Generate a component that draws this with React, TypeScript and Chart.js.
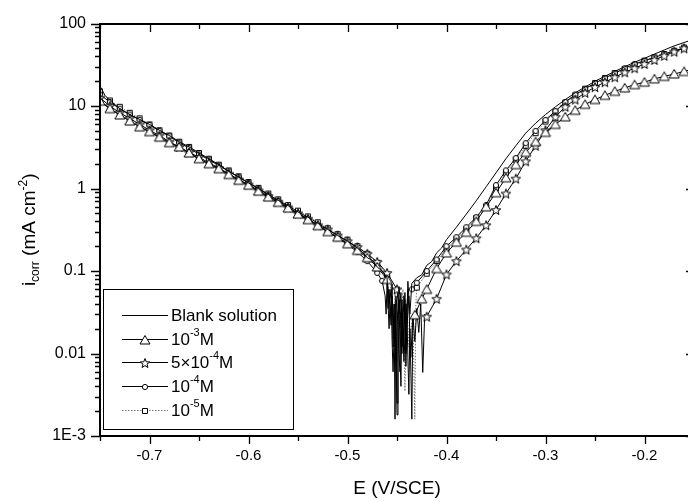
import React, { useEffect, useRef } from 'react';
import { Chart, registerables } from 'chart.js';

Chart.register(...registerables);

const FONT = "'Liberation Sans', Arial, Helvetica, sans-serif";

// ---- axes ----
const xMin = -0.75;
const xMax = -0.15;
const yMin = 0.001;
const yMax = 100;
const xTickValues = [-0.7, -0.6, -0.5, -0.4, -0.3, -0.2];
const xTickLabels = ['-0.7', '-0.6', '-0.5', '-0.4', '-0.3', '-0.2'];
const xMinorTicks = [-0.75, -0.65, -0.55, -0.45, -0.35, -0.25, -0.15];
const yTickValues = [0.001, 0.01, 0.1, 1, 10, 100];
const yTickLabels = ['1E-3', '0.01', '0.1', '1', '10', '100'];
const yMinorFactors = [2, 3, 4, 5, 6, 7, 8, 9];

const xTitle = 'E (V/SCE)';
const yTitle = [
  { text: 'i', role: 'base' },
  { text: 'corr', role: 'sub' },
  { text: ' (mA cm', role: 'base' },
  { text: '-2', role: 'sup' },
  { text: ')', role: 'base' },
];

const seriesLabels = [
  [{ text: 'Blank solution', role: 'base' }],
  [{ text: '10', role: 'base' }, { text: '-3', role: 'sup' }, { text: 'M', role: 'base' }],
  [{ text: '5\u00d710', role: 'base' }, { text: '-4', role: 'sup' }, { text: 'M', role: 'base' }],
  [{ text: '10', role: 'base' }, { text: '-4', role: 'sup' }, { text: 'M', role: 'base' }],
  [{ text: '10', role: 'base' }, { text: '-5', role: 'sup' }, { text: 'M', role: 'base' }],
];

// ---- data: [E (V/SCE), i (mA cm-2)] ----
// Blank solution
const blankCathodic: [number, number][] = [
  [-0.75, 17.4], [-0.745, 13.5], [-0.74, 11.7], [-0.73, 9.3], [-0.72, 7.9], [-0.71, 6.9], [-0.70, 6.0],
  [-0.69, 5.1], [-0.68, 4.4], [-0.67, 3.7], [-0.66, 3.2], [-0.65, 2.7], [-0.64, 2.3], [-0.63, 1.95],
  [-0.62, 1.62], [-0.61, 1.38], [-0.60, 1.17], [-0.59, 1.0], [-0.58, 0.85], [-0.57, 0.72], [-0.56, 0.62],
  [-0.55, 0.52], [-0.54, 0.45], [-0.53, 0.38], [-0.52, 0.32], [-0.51, 0.27], [-0.50, 0.23], [-0.49, 0.19],
  [-0.485, 0.17], [-0.48, 0.145], [-0.475, 0.135], [-0.47, 0.112], [-0.465, 0.1], [-0.46, 0.083],
];
const blankNoise: [number, number][] = [
  [-0.459, 0.035], [-0.458, 0.06], [-0.456, 0.022], [-0.455, 0.07], [-0.454, 0.012], [-0.453, 0.04],
  [-0.452, 0.0016], [-0.451, 0.05], [-0.45, 0.0025], [-0.449, 0.018], [-0.448, 0.065], [-0.447, 0.009],
  [-0.446, 0.004], [-0.445, 0.045], [-0.444, 0.02], [-0.443, 0.011], [-0.442, 0.055], [-0.441, 0.007],
  [-0.44, 0.025], [-0.439, 0.075], [-0.437, 0.03],
];
const blankAnodic: [number, number][] = [
  [-0.435, 0.071], [-0.43, 0.083], [-0.425, 0.09], [-0.42, 0.117], [-0.415, 0.13], [-0.41, 0.166],
  [-0.405, 0.19], [-0.40, 0.24], [-0.39, 0.34], [-0.38, 0.49], [-0.37, 0.71], [-0.36, 1.05], [-0.35, 1.55],
  [-0.34, 2.3], [-0.33, 3.3], [-0.32, 4.7], [-0.31, 6.2], [-0.30, 7.9], [-0.29, 9.8], [-0.28, 12.0],
  [-0.27, 14.5], [-0.26, 17.0], [-0.25, 20], [-0.24, 23], [-0.23, 26.3], [-0.22, 30], [-0.21, 34],
  [-0.20, 38], [-0.19, 42.7], [-0.18, 47.9], [-0.17, 53.7], [-0.16, 59], [-0.15, 64.6],
];

// 10^-3 M
const c3Cathodic: [number, number][] = [
  [-0.75, 11.5], [-0.74, 9.3], [-0.73, 7.8], [-0.72, 6.6], [-0.71, 5.6], [-0.70, 4.9], [-0.69, 4.2],
  [-0.68, 3.6], [-0.67, 3.2], [-0.66, 2.7], [-0.65, 2.3], [-0.64, 2.0], [-0.63, 1.74], [-0.62, 1.48],
  [-0.61, 1.26], [-0.60, 1.10], [-0.59, 0.93], [-0.58, 0.79], [-0.57, 0.68], [-0.56, 0.58], [-0.55, 0.49],
  [-0.54, 0.42], [-0.53, 0.355], [-0.52, 0.30], [-0.51, 0.257], [-0.50, 0.214], [-0.49, 0.178],
  [-0.48, 0.145], [-0.47, 0.112], [-0.46, 0.079],
];
const c3Noise: [number, number][] = [
  [-0.456, 0.03], [-0.455, 0.05], [-0.453, 0.02], [-0.452, 0.012], [-0.451, 0.045], [-0.45, 0.04],
  [-0.448, 0.01], [-0.447, 0.006], [-0.446, 0.03], [-0.445, 0.035], [-0.443, 0.008], [-0.442, 0.015],
  [-0.441, 0.04], [-0.44, 0.03], [-0.439, 0.009], [-0.438, 0.0032], [-0.437, 0.02], [-0.436, 0.006],
  [-0.435, 0.0016], [-0.434, 0.025],
];
const c3Anodic: [number, number][] = [
  [-0.432, 0.0295], [-0.425, 0.046], [-0.42, 0.06], [-0.41, 0.107], [-0.40, 0.166], [-0.39, 0.224],
  [-0.38, 0.295], [-0.37, 0.40], [-0.36, 0.60], [-0.35, 0.89], [-0.34, 1.35], [-0.33, 1.95], [-0.32, 2.75],
  [-0.31, 3.7], [-0.30, 4.8], [-0.29, 6.0], [-0.28, 7.4], [-0.27, 8.9], [-0.26, 10.5], [-0.25, 12.0],
  [-0.24, 13.5], [-0.23, 15.1], [-0.22, 16.6], [-0.21, 18.2], [-0.20, 19.5], [-0.19, 21.4], [-0.18, 22.9],
  [-0.17, 24.5], [-0.16, 26.3], [-0.15, 28.2],
];

// 5x10^-4 M
const c54Cathodic: [number, number][] = [
  [-0.75, 12.6], [-0.74, 10.0], [-0.73, 8.3], [-0.72, 7.1], [-0.71, 6.0], [-0.70, 5.1], [-0.69, 4.4],
  [-0.68, 3.7], [-0.67, 3.2], [-0.66, 2.75], [-0.65, 2.4], [-0.64, 2.05], [-0.63, 1.78], [-0.62, 1.51],
  [-0.61, 1.29], [-0.60, 1.12], [-0.59, 0.95], [-0.58, 0.81], [-0.57, 0.69], [-0.56, 0.59], [-0.55, 0.50],
  [-0.54, 0.43], [-0.53, 0.36], [-0.52, 0.32], [-0.51, 0.27], [-0.50, 0.23], [-0.49, 0.195],
  [-0.48, 0.162], [-0.47, 0.129], [-0.46, 0.095], [-0.45, 0.06],
];
const c54Noise: [number, number][] = [
  [-0.448, 0.03], [-0.446, 0.055], [-0.445, 0.02], [-0.444, 0.012], [-0.442, 0.045], [-0.441, 0.01],
  [-0.44, 0.02], [-0.438, 0.05], [-0.437, 0.015], [-0.436, 0.009], [-0.434, 0.03], [-0.432, 0.014],
  [-0.43, 0.035], [-0.428, 0.018], [-0.426, 0.04], [-0.424, 0.0059], [-0.422, 0.03],
];
const c54Anodic: [number, number][] = [
  [-0.42, 0.028], [-0.41, 0.046], [-0.40, 0.091], [-0.39, 0.132], [-0.38, 0.182], [-0.37, 0.25],
  [-0.36, 0.36], [-0.35, 0.55], [-0.34, 0.87], [-0.33, 1.32], [-0.32, 2.14], [-0.31, 3.3], [-0.30, 5.1],
  [-0.29, 7.4], [-0.28, 9.8], [-0.27, 12.0], [-0.26, 14.5], [-0.25, 17.0], [-0.24, 19.5], [-0.23, 22.4],
  [-0.22, 25.7], [-0.21, 28.8], [-0.20, 32.4], [-0.19, 36.3], [-0.18, 40.7], [-0.17, 45.7], [-0.16, 50.1],
  [-0.15, 55],
];

// 10^-4 M
const c4Cathodic: [number, number][] = [
  [-0.75, 13.8], [-0.74, 11.2], [-0.73, 9.3], [-0.72, 7.9], [-0.71, 6.8], [-0.70, 5.9], [-0.69, 5.0],
  [-0.68, 4.3], [-0.67, 3.6], [-0.66, 3.1], [-0.65, 2.6], [-0.64, 2.24], [-0.63, 1.9], [-0.62, 1.62],
  [-0.61, 1.38], [-0.60, 1.17], [-0.59, 1.0], [-0.58, 0.83], [-0.57, 0.71], [-0.56, 0.60], [-0.55, 0.50],
  [-0.54, 0.43], [-0.53, 0.36], [-0.52, 0.30], [-0.51, 0.25], [-0.50, 0.21], [-0.49, 0.17],
  [-0.48, 0.132], [-0.47, 0.095], [-0.465, 0.076],
];
const c4Noise: [number, number][] = [
  [-0.462, 0.05], [-0.461, 0.03], [-0.46, 0.075], [-0.458, 0.02], [-0.457, 0.045], [-0.456, 0.06],
  [-0.455, 0.015], [-0.454, 0.006], [-0.452, 0.04], [-0.451, 0.012], [-0.45, 0.0018], [-0.449, 0.03],
  [-0.447, 0.045], [-0.446, 0.02], [-0.445, 0.01], [-0.443, 0.05], [-0.441, 0.02], [-0.439, 0.06],
];
const c4Anodic: [number, number][] = [
  [-0.435, 0.06], [-0.43, 0.072], [-0.42, 0.10], [-0.41, 0.138], [-0.40, 0.20], [-0.39, 0.257],
  [-0.38, 0.34], [-0.37, 0.45], [-0.36, 0.63], [-0.35, 1.10], [-0.34, 1.66], [-0.33, 2.34], [-0.32, 3.55],
  [-0.31, 5.0], [-0.30, 6.8], [-0.29, 8.7], [-0.28, 11.2], [-0.27, 13.8], [-0.26, 16.2], [-0.25, 19.0],
  [-0.24, 21.9], [-0.23, 25.1], [-0.22, 28.8], [-0.21, 32.4], [-0.20, 35.5], [-0.19, 38.9], [-0.18, 42.7],
  [-0.17, 46.8], [-0.16, 50.1], [-0.15, 53.7],
];

// 10^-5 M
const c5Cathodic: [number, number][] = [
  [-0.75, 15.1], [-0.74, 11.7], [-0.73, 9.8], [-0.72, 8.3], [-0.71, 7.1], [-0.70, 6.0], [-0.69, 5.1],
  [-0.68, 4.4], [-0.67, 3.7], [-0.66, 3.2], [-0.65, 2.7], [-0.64, 2.3], [-0.63, 1.95], [-0.62, 1.66],
  [-0.61, 1.41], [-0.60, 1.2], [-0.59, 1.02], [-0.58, 0.87], [-0.57, 0.74], [-0.56, 0.63], [-0.55, 0.54],
  [-0.54, 0.46], [-0.53, 0.39], [-0.52, 0.33], [-0.51, 0.28], [-0.50, 0.24], [-0.49, 0.20],
  [-0.48, 0.162], [-0.47, 0.126], [-0.46, 0.091],
];
const c5Noise: [number, number][] = [
  [-0.458, 0.04], [-0.456, 0.07], [-0.454, 0.015], [-0.452, 0.055], [-0.45, 0.008], [-0.448, 0.045],
  [-0.446, 0.02], [-0.444, 0.06], [-0.442, 0.0035], [-0.44, 0.04], [-0.438, 0.012], [-0.434, 0.03],
  [-0.432, 0.0016], [-0.431, 0.04],
];
const c5Anodic: [number, number][] = [
  [-0.43, 0.063], [-0.42, 0.093], [-0.41, 0.132], [-0.40, 0.186], [-0.39, 0.245], [-0.38, 0.32],
  [-0.37, 0.44], [-0.36, 0.60], [-0.35, 1.0], [-0.34, 1.55], [-0.33, 2.24], [-0.32, 3.3], [-0.31, 4.7],
  [-0.30, 6.5], [-0.29, 8.5], [-0.28, 11.0], [-0.27, 13.5], [-0.26, 16.2], [-0.25, 19.0], [-0.24, 21.9],
  [-0.23, 25.1], [-0.22, 28.2], [-0.21, 31.6], [-0.20, 35.5], [-0.19, 38.9], [-0.18, 42.7], [-0.17, 46.8],
  [-0.16, 51.3], [-0.15, 55],
];

type Part = { text: string; role: string };

function makeMarker(kind: string): HTMLCanvasElement {
  const big = kind === 'triangle' || kind === 'star';
  const s = big ? 12 : 8;
  const c = document.createElement('canvas');
  c.width = s;
  c.height = s;
  const g = c.getContext('2d') as CanvasRenderingContext2D;
  g.fillStyle = '#fff';
  g.strokeStyle = '#000';
  g.lineWidth = 1;
  const m = s / 2;
  g.beginPath();
  if (kind === 'triangle') {
    g.moveTo(m, 1.5);
    g.lineTo(s - 1, s - 2);
    g.lineTo(1, s - 2);
    g.closePath();
  } else if (kind === 'star') {
    for (let i = 0; i < 10; i++) {
      const r = i % 2 === 0 ? 5 : 2.1;
      const a = -Math.PI / 2 + (i * Math.PI) / 5;
      const px = m + r * Math.cos(a);
      const py = m + 0.5 + r * Math.sin(a);
      if (i === 0) g.moveTo(px, py);
      else g.lineTo(px, py);
    }
    g.closePath();
  } else if (kind === 'circle') {
    g.arc(m, m, 2.6, 0, Math.PI * 2);
  } else {
    g.rect(1.5, 1.5, 5, 5);
  }
  g.fill();
  g.stroke();
  return c;
}

function fontFor(role: string, base: number) {
  return `${role === 'base' ? base : Math.round(base * 0.62)}px ${FONT}`;
}

function richWidth(ctx: CanvasRenderingContext2D, parts: Part[], base: number) {
  let w = 0;
  for (const p of parts) {
    ctx.font = fontFor(p.role, base);
    w += ctx.measureText(p.text).width;
  }
  return w;
}

function drawRich(ctx: CanvasRenderingContext2D, parts: Part[], x: number, y: number, base: number) {
  let cx = x;
  for (const p of parts) {
    ctx.font = fontFor(p.role, base);
    const dy = p.role === 'sup' ? -base * 0.42 : p.role === 'sub' ? base * 0.22 : 0;
    ctx.fillText(p.text, cx, y + dy);
    cx += ctx.measureText(p.text).width;
  }
}

export default function App() {
  const ref = useRef<HTMLCanvasElement>(null);

  useEffect(() => {
    document.body.style.margin = '0';
    document.body.style.overflow = 'hidden';
    const canvas = ref.current;
    if (!canvas) return;

    const markers = {
      triangle: makeMarker('triangle'),
      star: makeMarker('star'),
      circle: makeMarker('circle'),
      square: makeMarker('square'),
    };

    const series = [
      { cath: blankCathodic, noise: blankNoise, anod: blankAnodic, marker: null, color: '#000', dash: [] as number[] },
      { cath: c3Cathodic, noise: c3Noise, anod: c3Anodic, marker: markers.triangle, color: '#000', dash: [] as number[] },
      { cath: c54Cathodic, noise: c54Noise, anod: c54Anodic, marker: markers.star, color: '#000', dash: [] as number[] },
      { cath: c4Cathodic, noise: c4Noise, anod: c4Anodic, marker: markers.circle, color: '#000', dash: [] as number[] },
      { cath: c5Cathodic, noise: c5Noise, anod: c5Anodic, marker: markers.square, color: '#777', dash: [1.5, 1.5] },
    ];

    const datasets = series.map((s, k) => {
      const pts = [...s.cath, ...s.noise, ...s.anod].map(([x, y]) => ({ x, y }));
      const r = s.marker ? 4 : 0;
      const radii = [...s.cath.map(() => r), ...s.noise.map(() => 0), ...s.anod.map(() => r)];
      return {
        label: seriesLabels[k].map((p) => p.text).join(''),
        data: pts,
        borderColor: s.color,
        borderWidth: 1,
        borderDash: s.dash,
        pointRadius: radii,
        pointStyle: (s.marker || 'circle') as any,
        pointBackgroundColor: '#fff',
        pointBorderColor: '#000',
        tension: 0,
        fill: false,
      };
    });

    const decorations = {
      id: 'decorations',
      afterDraw(chart: any) {
        const { ctx, chartArea: a, scales } = chart;
        const xs = scales.x;
        const ys = scales.y;
        const L = Math.round(a.left);
        const R = Math.round(a.right);
        const T = Math.round(a.top);
        const B = Math.round(a.bottom);
        ctx.save();
        ctx.strokeStyle = '#000';
        ctx.fillStyle = '#000';
        // frame
        ctx.lineWidth = 2;
        ctx.strokeRect(L, T, R - L, B - T);
        // ticks
        ctx.lineWidth = 1.3;
        ctx.beginPath();
        for (const v of xTickValues) {
          const px = Math.round(xs.getPixelForValue(v)) + 0.5;
          ctx.moveTo(px, B);
          ctx.lineTo(px, B + 8);
          ctx.moveTo(px, T);
          ctx.lineTo(px, T + 8);
        }
        for (const v of xMinorTicks) {
          const px = Math.round(xs.getPixelForValue(v)) + 0.5;
          ctx.moveTo(px, B);
          ctx.lineTo(px, B + 5);
          ctx.moveTo(px, T);
          ctx.lineTo(px, T + 5);
        }
        for (const v of yTickValues) {
          const py = Math.round(ys.getPixelForValue(v)) + 0.5;
          ctx.moveTo(L - 9, py);
          ctx.lineTo(L, py);
          ctx.moveTo(R, py);
          ctx.lineTo(R - 8, py);
        }
        for (let d = 0; d < yTickValues.length - 1; d++) {
          for (const f of yMinorFactors) {
            const py = Math.round(ys.getPixelForValue(yTickValues[d] * f)) + 0.5;
            ctx.moveTo(L - 5, py);
            ctx.lineTo(L, py);
            ctx.moveTo(R, py);
            ctx.lineTo(R - 4, py);
          }
        }
        ctx.stroke();

        // x title
        ctx.font = `19px ${FONT}`;
        ctx.textAlign = 'center';
        ctx.textBaseline = 'alphabetic';
        ctx.fillText(xTitle, (a.left + a.right) / 2, 494);

        // y title (rotated)
        ctx.textAlign = 'left';
        const base = 19;
        const tw = richWidth(ctx, yTitle, base);
        ctx.save();
        ctx.translate(35, (a.top + a.bottom) / 2);
        ctx.rotate(-Math.PI / 2);
        drawRich(ctx, yTitle, -tw / 2, 0, base);
        ctx.restore();

        // legend
        const bx = L + 3;
        const bw = 190;
        const bh = 140;
        const by = B - 7 - bh;
        ctx.lineWidth = 1;
        ctx.fillStyle = '#fff';
        ctx.fillRect(bx, by, bw, bh);
        ctx.strokeRect(bx + 0.5, by + 0.5, bw, bh);
        ctx.fillStyle = '#000';
        const lbase = 17;
        ctx.textBaseline = 'middle';
        series.forEach((s, k) => {
          const ry = Math.round(by + 26 + k * 23.7) + 0.5;
          ctx.save();
          ctx.strokeStyle = s.color;
          ctx.setLineDash(s.dash);
          ctx.beginPath();
          ctx.moveTo(bx + 19, ry);
          ctx.lineTo(bx + 65, ry);
          ctx.stroke();
          ctx.restore();
          if (s.marker) {
            const mk = s.marker as HTMLCanvasElement;
            ctx.drawImage(mk, Math.round(bx + 42 - mk.width / 2), Math.round(ry - mk.height / 2));
          }
          drawRich(ctx, seriesLabels[k] as Part[], bx + 68, ry + 1, lbase);
        });
        ctx.restore();
      },
    };

    const chart = new Chart(canvas, {
      type: 'line',
      data: { datasets: datasets as any },
      options: {
        responsive: false,
        animation: false,
        devicePixelRatio: 1,
        events: [],
        layout: { padding: { top: 16, right: 26, left: 0, bottom: 0 } },
        plugins: { legend: { display: false }, tooltip: { enabled: false } },
        scales: {
          x: {
            type: 'linear',
            position: 'bottom',
            min: xMin,
            max: xMax,
            grid: { display: false, drawTicks: false },
            border: { display: false },
            afterFit: (s: any) => {
              s.height = 66;
            },
            afterBuildTicks: (s: any) => {
              s.ticks = xTickValues.map((v) => ({ value: v }));
            },
            ticks: {
              padding: 11,
              autoSkip: false,
              maxRotation: 0,
              color: '#000',
              font: { family: FONT, size: 15 },
              callback: (v: any) => {
                const i = xTickValues.findIndex((t) => Math.abs(t - Number(v)) < 1e-9);
                return i >= 0 ? xTickLabels[i] : '';
              },
            },
          },
          y: {
            type: 'logarithmic',
            position: 'left',
            min: yMin,
            max: yMax,
            grid: { display: false, drawTicks: false },
            border: { display: false },
            afterFit: (s: any) => {
              s.width = 100;
            },
            afterBuildTicks: (s: any) => {
              s.ticks = yTickValues.map((v) => ({ value: v }));
            },
            ticks: {
              padding: 14,
              autoSkip: false,
              color: '#000',
              font: { family: FONT, size: 16 },
              callback: (v: any) => {
                const i = yTickValues.findIndex((t) => Math.abs(t - Number(v)) / t < 1e-6);
                return i >= 0 ? yTickLabels[i] : '';
              },
            },
          },
        },
      },
      plugins: [decorations],
    });

    return () => chart.destroy();
  }, []);

  return (
    <div style={{ position: 'fixed', left: 0, top: 0, width: 688, height: 502, overflow: 'hidden', background: '#fff' }}>
      <canvas ref={ref} width={720} height={502} style={{ display: 'block', width: 720, height: 502 }} />
    </div>
  );
}
